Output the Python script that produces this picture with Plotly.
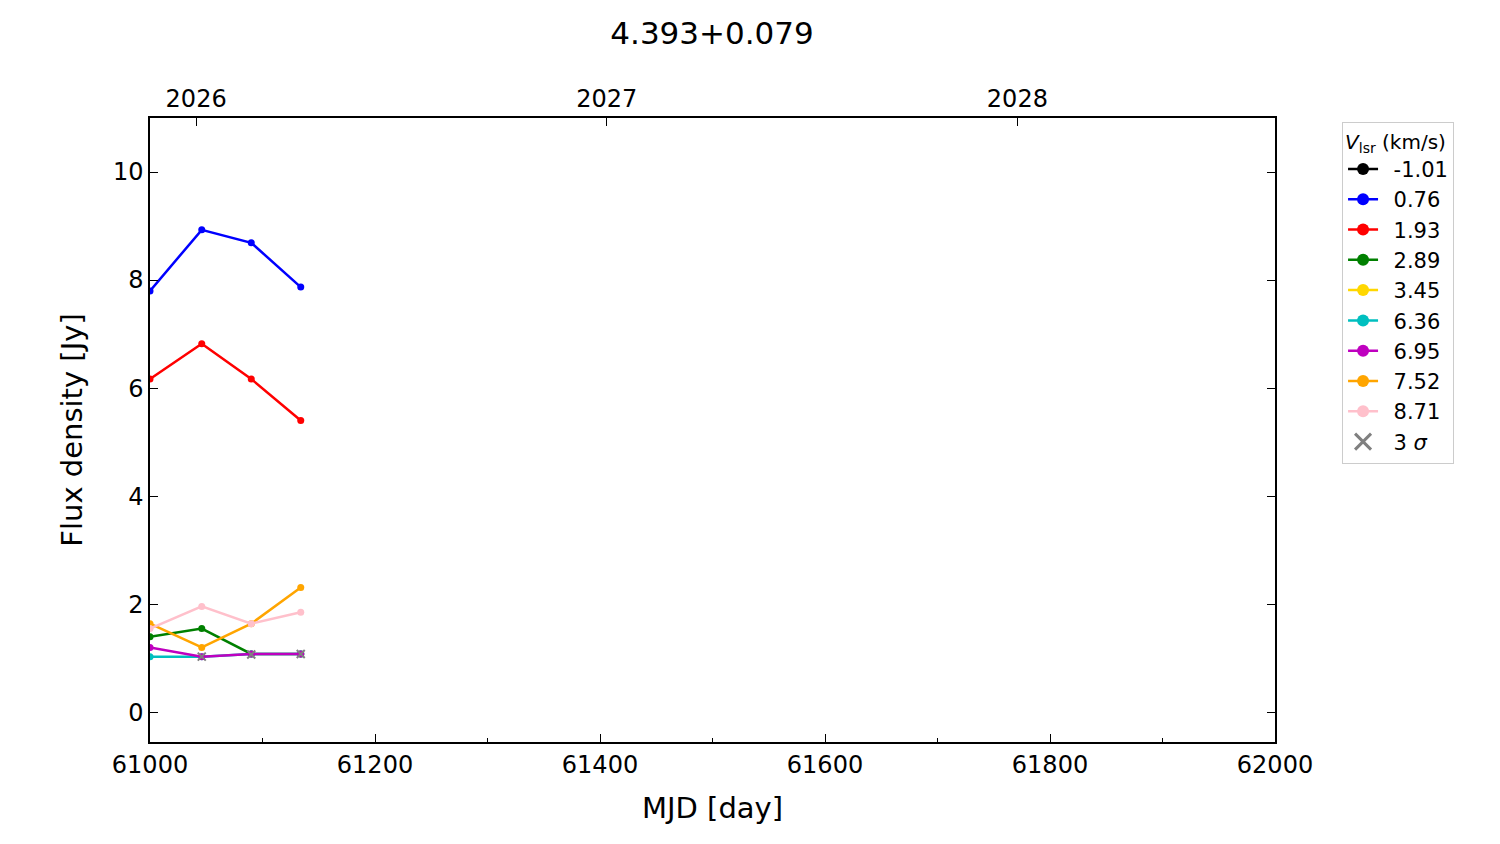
import plotly.graph_objects as go

mjd = [61000, 61046, 61090, 61134]
velocities = ["-1.01", "0.76", "1.93", "2.89", "3.45", "6.36", "6.95", "7.52", "8.71"]
colors = ["black", "blue", "red", "green", "gold", "#00BFBF", "#BF00BF", "orange", "pink"]
flux = {
    "-1.01": [None, None, None, None],
    "0.76": [7.80, 8.93, 8.69, 7.87],
    "1.93": [6.17, 6.82, 6.17, 5.40],
    "2.89": [1.40, 1.55, 1.08, 1.08],
    "3.45": [None, None, None, None],
    "6.36": [1.03, 1.03, 1.08, 1.08],
    "6.95": [1.20, 1.03, 1.08, 1.08],
    "7.52": [1.64, 1.20, 1.64, 2.31],
    "8.71": [1.55, 1.96, 1.64, 1.85],
}
sigma_mjd = [61046, 61090, 61134]
sigma_flux = [1.03, 1.07, 1.08]

x_ticks = [61000, 61200, 61400, 61600, 61800, 62000]
y_ticks = [0, 2, 4, 6, 8, 10]
year_labels = ["2026", "2027", "2028"]
year_mjd = [61041, 61406, 61771]

fig = go.Figure()
for v, c in zip(velocities, colors):
    fig.add_trace(go.Scatter(
        x=mjd, y=flux[v], mode="lines+markers", name=v, showlegend=False,
        line=dict(color=c, width=2.5), marker=dict(color=c, size=7),
        cliponaxis=True,
    ))
fig.add_trace(go.Scatter(
    x=sigma_mjd, y=sigma_flux, mode="markers", name="3 σ", showlegend=False,
    marker=dict(symbol="x-thin", color="gray", size=8, line=dict(color="gray", width=2)),
))
# legend entries (larger symbols, as in the reference legend)
pad = "\u2002"
for v, c in zip(velocities, colors):
    fig.add_trace(go.Scatter(
        x=[None], y=[None], mode="lines+markers", name=pad + v,
        line=dict(color=c, width=2.5), marker=dict(color=c, size=12),
    ))
fig.add_trace(go.Scatter(
    x=[None], y=[None], mode="markers", name=pad + "3 <i>σ</i>",
    marker=dict(symbol="x-thin", color="gray", size=16, line=dict(color="gray", width=3)),
))
# invisible trace to activate top axis
fig.add_trace(go.Scatter(x=[61500], y=[5], xaxis="x2", mode="markers",
                         marker=dict(opacity=0), showlegend=False, hoverinfo="skip"))

font = "DejaVu Sans, sans-serif"
fig.update_layout(
    width=1500, height=844,
    paper_bgcolor="white", plot_bgcolor="white",
    margin=dict(l=150, r=225, t=118, b=102),
    font=dict(family=font, size=20, color="black"),
    title=dict(text="4.393+0.079", x=0.4747, xanchor="center", y=0.961, yanchor="middle",
               font=dict(size=31, family=font)),
    showlegend=True,
    legend=dict(
        title=dict(text="<i>V</i><sub>lsr</sub> (km/s)", font=dict(size=20), side="top"),
        x=1.0596, xanchor="left", y=0.994, yanchor="top",
        bordercolor="#cccccc", borderwidth=1, bgcolor="white",
        font=dict(size=21), itemsizing="trace", tracegroupgap=0,
    ),
    xaxis=dict(
        range=[61000, 62000], tickvals=x_ticks, ticktext=[str(t) for t in x_ticks],
        tickfont=dict(size=24), automargin=False,
        ticks="inside", ticklen=8, tickwidth=1.2, tickcolor="black",
        showline=True, linecolor="black", linewidth=1.5, mirror=False,
        showgrid=False, zeroline=False,
        minor=dict(dtick=100, ticks="inside", ticklen=4, tickcolor="black", showgrid=False),
        title=dict(text="MJD [day]", font=dict(size=29), standoff=20),
    ),
    xaxis2=dict(
        overlaying="x", side="top", range=[61000, 62000],
        tickvals=year_mjd, ticktext=year_labels, tickfont=dict(size=24), automargin=False,
        ticks="inside", ticklen=8, tickwidth=1.2, tickcolor="black",
        showline=True, linecolor="black", linewidth=1.5,
        showgrid=False, zeroline=False,
    ),
    yaxis=dict(
        range=[-0.55, 11], tickvals=y_ticks, ticktext=[str(t) for t in y_ticks],
        tickfont=dict(size=24), automargin=False,
        ticks="inside", ticklen=8, tickwidth=1.2, tickcolor="black",
        showline=True, linecolor="black", linewidth=1.5, mirror="ticks",
        showgrid=False, zeroline=False,
        title=dict(text="Flux density [Jy]", font=dict(size=29), standoff=22),
    ),
)
fig.write_html("out.html", config={"displayModeBar": False},
               post_script="document.body.style.margin='0';")
